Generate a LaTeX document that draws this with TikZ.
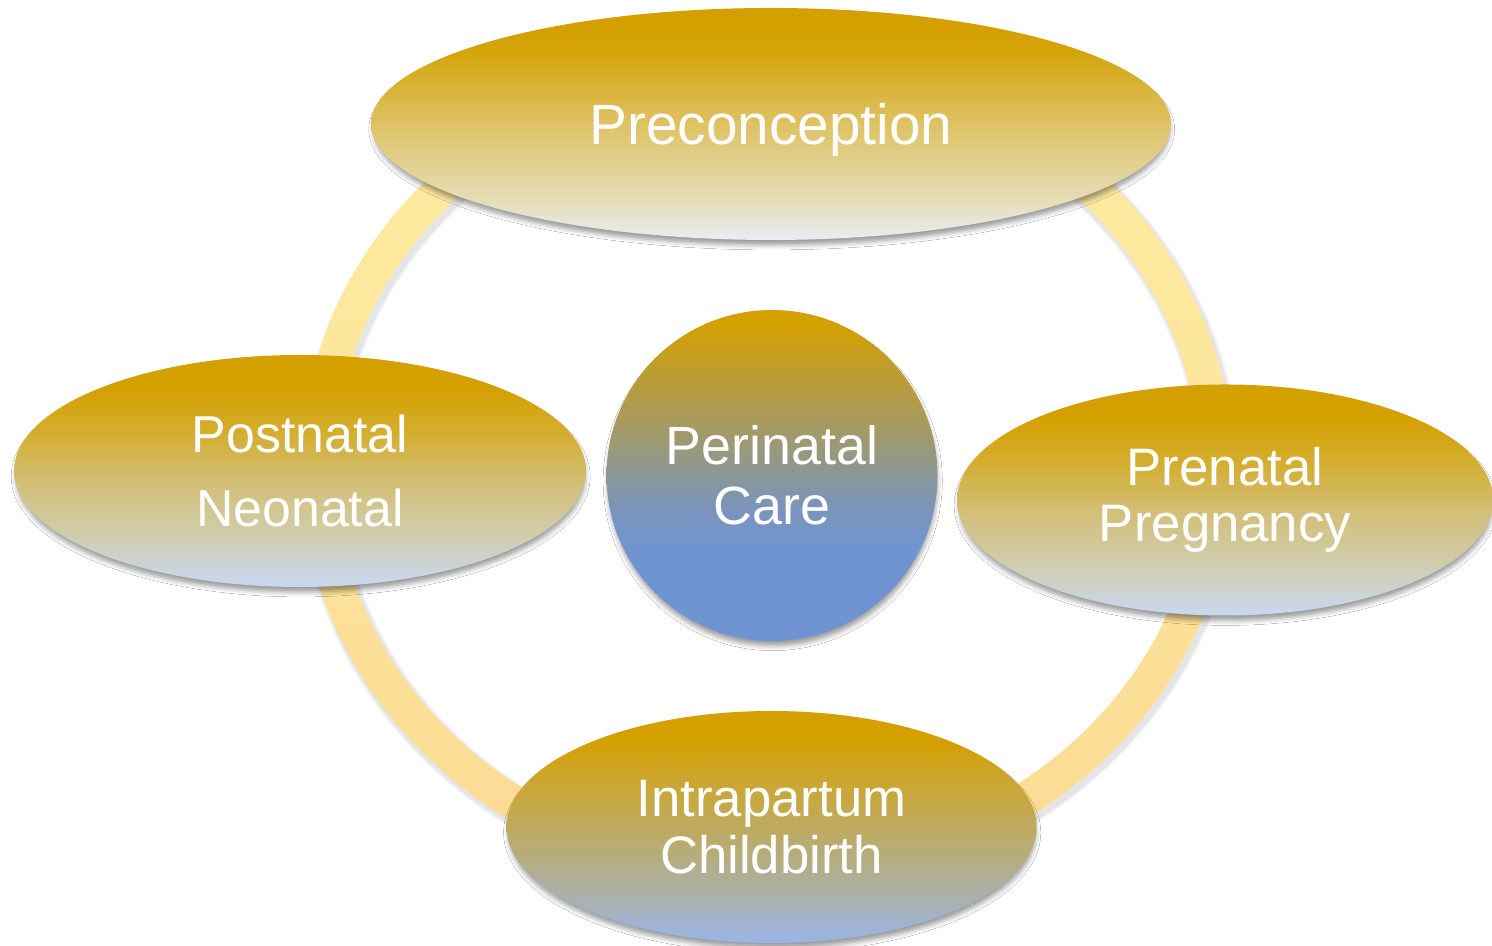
\documentclass[tikz,border=0pt]{standalone}
\usepackage{fontspec}
\setmainfont{Liberation Sans}
\usetikzlibrary{shapes.geometric,shadows.blur}

\definecolor{gold}{HTML}{D4A000}
\definecolor{ringtop}{HTML}{FEEEA2}
\definecolor{ringbot}{HTML}{FCDA94}
% Preconception
\definecolor{preA}{HTML}{E9EDF5}
\definecolor{preB}{HTML}{E6DEBA}
\definecolor{preC}{HTML}{DEC264}
\definecolor{preD}{HTML}{D5A40A}
% side ovals
\definecolor{sideA}{HTML}{C9D7EC}
\definecolor{sideB}{HTML}{D1CCA9}
\definecolor{sideC}{HTML}{D2BE74}
\definecolor{sideD}{HTML}{D4AE30}
% Intrapartum
\definecolor{intA}{HTML}{9BB5E3}
\definecolor{intB}{HTML}{AAB1AC}
\definecolor{intC}{HTML}{BDAA62}
\definecolor{intD}{HTML}{CCA630}
% Perinatal care
\definecolor{perA}{HTML}{7094D2}
\definecolor{perB}{HTML}{7A94BC}
\definecolor{perC}{HTML}{8E9890}
\definecolor{perD}{HTML}{A89A5E}
\definecolor{perE}{HTML}{BC9C34}

\pgfdeclareverticalshading{preshade}{100bp}{color(0bp)=(preA); color(25bp)=(preA);
  color(33bp)=(preB); color(50bp)=(preC); color(66bp)=(preD); color(70bp)=(gold); color(100bp)=(gold)}
\pgfdeclareverticalshading{sideshade}{100bp}{color(0bp)=(sideA); color(26bp)=(sideA);
  color(37bp)=(sideB); color(48bp)=(sideC); color(58bp)=(sideD); color(68bp)=(gold); color(100bp)=(gold)}
\pgfdeclareverticalshading{intshade}{100bp}{color(0bp)=(intA); color(26bp)=(intA);
  color(35bp)=(intB); color(49bp)=(intC); color(60bp)=(intD); color(69bp)=(gold); color(100bp)=(gold)}
\pgfdeclareverticalshading{pershade}{100bp}{color(0bp)=(perA); color(38bp)=(perA);
  color(45bp)=(perB); color(51bp)=(perC); color(58bp)=(perD); color(65bp)=(perE); color(73bp)=(gold); color(100bp)=(gold)}

\begin{document}
\begin{tikzpicture}[scale=1,
    oval/.style={ellipse,inner sep=0pt,text=white,align=center,
      blur shadow={shadow xshift=0.4pt,shadow yshift=-3.2pt,shadow blur radius=2.8pt,
        shadow scale=0.995,shadow opacity=40}},
    txt/.style={font={\fontsize{30}{32.3}\selectfont}}]
    \useasboundingbox (0,0) rectangle (29.84,18.92);
    \fill[white] (0,0) rectangle (29.84,18.92);

    %ring
    \coordinate (ring) at (15.34,9.56);
    \foreach \w in {0.84,0.76}
      \draw[line width=\w cm,black,opacity=0.05] ([shift={(0.05,-0.08)}]ring) ellipse (8.98 and 8.10);
    \shade[top color=ringtop,bottom color=ringbot,even odd rule]
      (ring) ellipse (9.32 and 8.44) (ring) ellipse (8.64 and 7.76);

    %phases
    \node[oval,shading=preshade,minimum width=16cm,minimum height=4.64cm,text depth=0pt,
      font={\fontsize{32.3}{36}\selectfont}] (pre) at (15.42,16.44) {Preconception};
    \node[oval,shading=sideshade,minimum width=11.44cm,minimum height=4.64cm,
      font={\fontsize{29.5}{42.5}\selectfont}] (post) at (6.00,9.50) {Postnatal\\Neonatal};
    \node[oval,shading=sideshade,minimum width=10.72cm,minimum height=4.62cm,txt]
      (pren) at (24.50,8.92) {Prenatal\\Pregnancy};
    \node[oval,shading=intshade,minimum width=10.6cm,minimum height=4.64cm,txt]
      (intra) at (15.43,2.38) {Intrapartum\\Childbirth};

    %centre
    \node[oval,circle,shading=pershade,minimum size=6.62cm,
      font={\fontsize{30.6}{34}\selectfont}] (peri) at (15.44,9.41) {Perinatal\\Care};
\end{tikzpicture}
\end{document}
